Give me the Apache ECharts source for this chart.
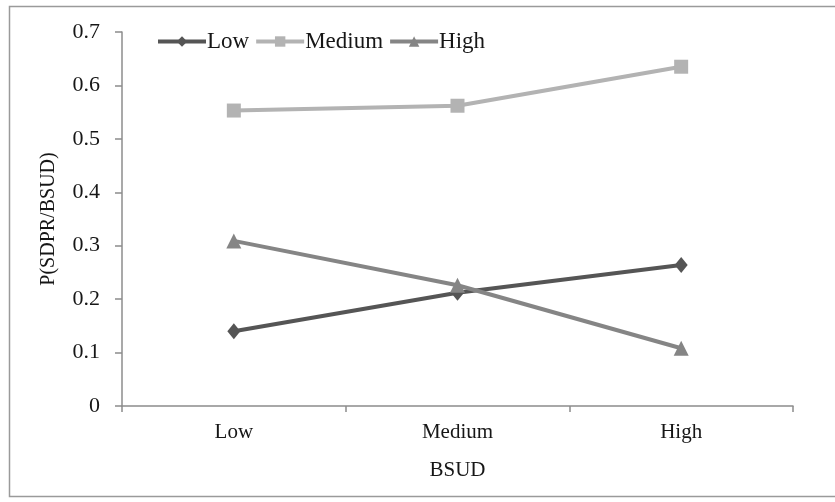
<!DOCTYPE html>
<html>
<head>
<meta charset="utf-8">
<script src="https://cdn.jsdelivr.net/npm/echarts@6/dist/echarts.min.js"></script>
<style>
  html, body { margin: 0; padding: 0; background: #fff; }
  #chart { width: 835px; height: 502px; }
</style>
</head>
<body>
<div id="chart"></div>
<script>
// BSUD levels along the x axis
const categories = ['Low', 'Medium', 'High'];
// P(SDPR/BSUD) for each SDPR level
const lowValues = [0.14, 0.212, 0.264];
const mediumValues = [0.553, 0.562, 0.635];
const highValues = [0.309, 0.226, 0.108];
const yTicks = { min: 0, max: 0.7, interval: 0.1 };

const serif = '"Liberation Serif", "DejaVu Serif", serif';
const axisGray = '#8c8c8c';
const textColor = '#161616';

const chart = echarts.init(document.getElementById('chart'), null, { renderer: 'canvas' });

function lineSeries(name, data, color, symbol, size) {
  return {
    name: name,
    type: 'line',
    data: data,
    symbol: symbol,
    symbolSize: size,
    showAllSymbol: true,
    lineStyle: { color: color, width: 4 },
    itemStyle: { color: color },
    emphasis: { disabled: true },
    z: 3
  };
}

chart.setOption({
  animation: false,
  backgroundColor: '#ffffff',
  textStyle: { fontFamily: serif },
  grid: { left: 122, top: 32, right: 42, bottom: 96, containLabel: false },
  legend: {
    left: 151,
    top: 25,
    itemWidth: 48,
    itemHeight: 13,
    itemGap: 5,
    lineStyle: { width: 4 },
    textStyle: { fontFamily: serif, fontSize: 23, color: textColor, padding: [0, 0, 0, -4] },
    data: ['Low', 'Medium', 'High']
  },
  xAxis: {
    type: 'category',
    data: categories,
    boundaryGap: true,
    name: 'BSUD',
    nameLocation: 'middle',
    nameGap: 54,
    nameTextStyle: { fontFamily: serif, fontSize: 21, color: textColor },
    axisLine: { lineStyle: { color: axisGray, width: 1.5 } },
    axisTick: { show: true, length: 6, inside: false, lineStyle: { color: axisGray, width: 1.5 } },
    axisLabel: { fontFamily: serif, fontSize: 21, color: textColor, margin: 16 },
    splitLine: { show: false }
  },
  yAxis: {
    type: 'value',
    min: yTicks.min,
    max: yTicks.max,
    interval: yTicks.interval,
    name: 'P(SDPR/BSUD)',
    nameLocation: 'middle',
    nameGap: 63,
    nameTextStyle: { fontFamily: serif, fontSize: 20, color: textColor },
    axisLine: { show: true, lineStyle: { color: axisGray, width: 1.5 } },
    axisTick: { show: true, length: 7, lineStyle: { color: axisGray, width: 1.5 } },
    axisLabel: { fontFamily: serif, fontSize: 22, color: textColor, margin: 22,
      formatter: v => (Math.round(v * 10) / 10).toString() },
    splitLine: { show: false }
  },
  series: [
    lineSeries('Low', lowValues, '#555555', 'diamond', [13, 16]),
    lineSeries('Medium', mediumValues, '#b3b3b3', 'rect', 14),
    lineSeries('High', highValues, '#858585', 'triangle', 15)
  ],
  graphic: [
    {
      type: 'rect',
      shape: { x: 9.5, y: 6.5, width: 840, height: 490 },
      style: { fill: 'none', stroke: '#9a9a9a', lineWidth: 1.5 },
      silent: true,
      z: -1
    }
  ]
});
</script>
</body>
</html>
